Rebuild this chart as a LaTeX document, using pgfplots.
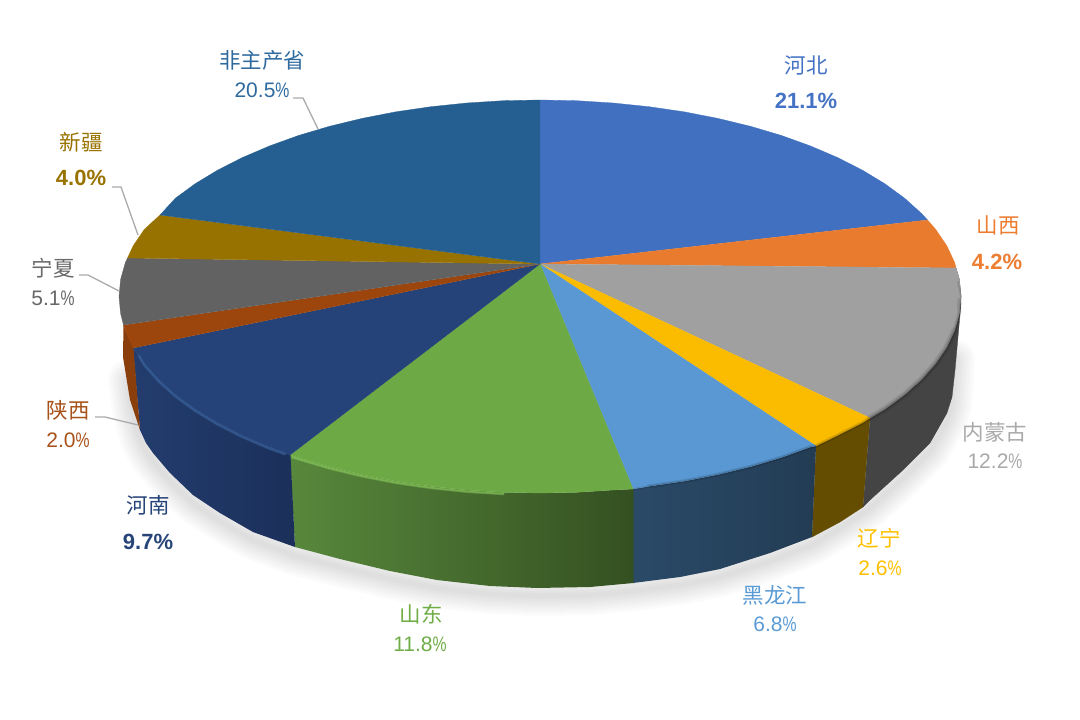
\documentclass[border=0pt]{standalone}
\usepackage{fontspec}
\usepackage{graphicx}
\usepackage{pgfplots}
\pgfplotsset{compat=1.18}
\setmainfont{Liberation Sans}
\newfontfamily\cjk{Noto Sans CJK SC}
\definecolor{cA}{HTML}{4070BF}\definecolor{tA}{HTML}{4472C4}
\definecolor{cB}{HTML}{E97B2F}\definecolor{tB}{HTML}{ED7D31}
\definecolor{cC}{HTML}{A0A0A0}\definecolor{tC}{HTML}{A9A9A9}
\definecolor{cD}{HTML}{FBBC00}\definecolor{tD}{HTML}{FFC000}
\definecolor{cE}{HTML}{5A98D3}\definecolor{tE}{HTML}{5B9BD5}
\definecolor{cF}{HTML}{6DAA45}\definecolor{tF}{HTML}{70AD47}
\definecolor{cG}{HTML}{254378}\definecolor{tG}{HTML}{264478}
\definecolor{cH}{HTML}{9C460D}\definecolor{tH}{HTML}{A8521A}
\definecolor{cI}{HTML}{626262}\definecolor{tI}{HTML}{686868}
\definecolor{cJ}{HTML}{987200}\definecolor{tJ}{HTML}{997300}
\definecolor{cK}{HTML}{255E90}\definecolor{tK}{HTML}{2F6A9E}
\definecolor{lead}{HTML}{ABABAB}
\definecolor{sideC}{HTML}{444444}
\definecolor{hiF}{HTML}{8CCB5E}
\newcommand{\nameat}[4]{\node[text=#1,inner sep=0pt] at (axis cs:#2,#3) {\fontsize{21.5}{24}\cjk #4};}
\newcommand{\valb}[4]{\node[text=#1,inner sep=0pt] at (axis cs:#2,#3) {\fontsize{22}{24}\selectfont\bfseries #4\%};}
\newcommand{\valr}[4]{\node[text=#1,inner sep=0pt] at (axis cs:#2,#3) {\fontsize{21}{24}\selectfont #4\scalebox{.75}[1]{\%}};}
\begin{document}
\begin{tikzpicture}
\useasboundingbox (0,0) rectangle (1080pt,720pt);
\begin{axis}[at={(0,0)},anchor=south west,scale only axis,width=1080pt,height=720pt,
  xmin=0,xmax=1080,ymin=0,ymax=720,y dir=reverse,hide axis,clip=false]
% soft shadow under the pie
\pgfplotsinvokeforeach{40,35,30,25,20,15,10,5}{
\addplot[draw=black,opacity=.016,line width=#1pt,line join=round,line cap=round] coordinates {
(955,360)(952,405)(947,421)(930,451)(903,478)(870,508)(840,528)(812,545)(770,561)(720,577)(680,585)(633,591)(590,595)(537,596)(490,594)(437,588)(390,579)(340,567)(293,555)(253,540)(220,521)(193,503)(170,481)(153,461)(146,451)(139,436)(132,410)(128,380)};
}
% side faces
\addplot[fill=sideC,draw=sideC,line width=.3pt] coordinates {
(956,268)(959.4,279.4)(961,296.5)(959.4,313.6)(954.6,330.6)(946.7,347.4)(935.6,363.7)(921.6,379.5)(904.6,394.8)(884.9,409.2)(870,418)
(863,507)(870,500)(903,470)(930,443)(947,413)(952,397)(955,370)(958,337)(961,303)};
\addplot[fill={rgb,255:red,100;green,77;blue,0},draw={rgb,255:red,100;green,77;blue,0},line width=.3pt] coordinates {
(870,418)(862.5,422.8)(837.7,435.4)(816,446)(812,537)(840,522)(863,507)};
\addplot[shade,left color={rgb,255:red,42;green,74;blue,104},right color={rgb,255:red,35;green,60;blue,84},draw=none] coordinates {
(816,446)(810.6,447)(781.5,457.5)(750.5,466.7)(717.9,474.6)(684,481.2)(649,486.3)(633,489)(633,583)(680,577)(720,569)(770,553)(812,537)};
\addplot[shade,left color={rgb,255:red,88;green,136;blue,60},right color={rgb,255:red,52;green,80;blue,33},draw=none] coordinates {
(633.5,489)(613.1,490)(576.7,492.3)(540,493)(503.3,492.3)(466.9,490)(431,486.3)(396,481.2)(362.1,474.6)(329.5,466.7)(298.5,457.5)(290,455)(295,547)(340,559)(390,571)(437,580)(490,586)(537,588)(590,587)(633.5,583)};
\addplot[shade,left color={rgb,255:red,35;green,61;blue,110},right color={rgb,255:red,27;green,47;blue,90},draw=none] coordinates {
(290.5,455)(269.4,447)(242.3,435.4)(217.5,422.8)(195.1,409.2)(175.4,394.8)(158.4,379.5)(144.4,363.7)(133,348)(140,430)(146,443)(153,453)(170,473)(193,495)(220,513)(253,532)(295,547)};
\addplot[fill={rgb,255:red,138;green,62;blue,12},draw=none] coordinates {
(133.5,348)(125.4,330.6)(123.5,325)(123,357)(130,400)(140,430)};
% top faces
\addplot[fill=cA,draw=cA,line width=.3pt] coordinates {
(540,264)(540,100)(576.7,100.7)(613.1,103)(649,106.7)(684,111.8)(717.9,118.4)(750.5,126.3)(781.5,135.5)(810.6,146)(837.7,157.6)(862.5,170.2)(884.9,183.8)(904.6,198.2)(921.6,213.5)(927.5,220)};
\addplot[fill=cB,draw=cB,line width=.3pt] coordinates {
(540,264)(927.5,220)(935.6,229.3)(946.7,245.6)(954.6,262.4)(956,268)};
\addplot[fill=cC,draw=cC,line width=.3pt] coordinates {
(540,264)(956,268)(959.4,279.4)(961,296.5)(959.4,313.6)(954.6,330.6)(946.7,347.4)(935.6,363.7)(921.6,379.5)(904.6,394.8)(884.9,409.2)(870,418)};
\addplot[fill=cD,draw=cD,line width=.3pt] coordinates {
(540,264)(870,418)(862.5,422.8)(837.7,435.4)(816,446)};
\addplot[fill=cE,draw=cE,line width=.3pt] coordinates {
(540,264)(816,446)(810.6,447)(781.5,457.5)(750.5,466.7)(717.9,474.6)(684,481.2)(649,486.3)(633,489)};
\addplot[fill=cF,draw=cF,line width=.3pt] coordinates {
(540,264)(633,489)(613.1,490)(576.7,492.3)(540,493)(503.3,492.3)(466.9,490)(431,486.3)(396,481.2)(362.1,474.6)(329.5,466.7)(298.5,457.5)(290,455)};
\addplot[fill=cG,draw=cG,line width=.3pt] coordinates {
(540,264)(290,455)(269.4,447)(242.3,435.4)(217.5,422.8)(195.1,409.2)(175.4,394.8)(158.4,379.5)(144.4,363.7)(133,348)};
\addplot[fill=cH,draw=cH,line width=.3pt] coordinates {
(540,264)(133,348)(125.4,330.6)(123.5,325)};
\addplot[fill=cI,draw=cI,line width=.3pt] coordinates {
(540,264)(123.5,325)(120.6,313.6)(119,296.5)(120.6,279.4)(125.4,262.4)(127.5,258)};
\addplot[fill=cJ,draw=cJ,line width=.3pt] coordinates {
(540,264)(127.5,258)(133.3,245.6)(144.4,229.3)(160,215)};
\addplot[fill=cK,draw=cK,line width=.3pt] coordinates {
(540,264)(160,215)(175.4,198.2)(195.1,183.8)(217.5,170.2)(242.3,157.6)(269.4,146)(298.5,135.5)(329.5,126.3)(362.1,118.4)(396,111.8)(431,106.7)(466.9,103)(503.3,100.7)(540,100)};
% bevel along the rim
\addplot[draw=hiF,line width=3pt,opacity=.35,line cap=round] coordinates {
(292,457)(298.5,459)(329.5,468.2)(362.1,476.1)(396,482.7)(431,487.8)(466.9,491.5)(503.3,493.8)};
\addplot[draw=hiF,line width=1.6pt,opacity=.55,line cap=round] coordinates {
(292,457)(298.5,459)(329.5,468.2)(362.1,476.1)(396,482.7)(431,487.8)(466.9,491.5)(503.3,493.8)};
\addplot[draw={rgb,255:red,58;green,100;blue,160},line width=3pt,opacity=.35,line cap=round] coordinates {
(139,356)(144.4,365.2)(158.4,381)(175.4,396.3)(195.1,410.7)(217.5,424.3)(242.3,436.9)(269.4,448.5)(285,454)};
\addplot[draw={rgb,255:red,58;green,100;blue,160},line width=1.5pt,opacity=.6,line cap=round] coordinates {
(139,356)(144.4,365.2)(158.4,381)(175.4,396.3)(195.1,410.7)(217.5,424.3)(242.3,436.9)(269.4,448.5)(285,454)};
% darker soft rim on the right-hand slices
\addplot[draw=black,line width=7pt,opacity=.07,line cap=round] coordinates {
(954.6,330.6)(946.7,347.4)(935.6,363.7)(921.6,379.5)(904.6,394.8)(884.9,409.2)(870,418)};
\addplot[draw=black,line width=4pt,opacity=.09,line cap=round] coordinates {
(959,300)(959.4,313.6)(954.6,330.6)(946.7,347.4)(935.6,363.7)(921.6,379.5)(904.6,394.8)(884.9,409.2)(870,418)(862.5,422.8)(837.7,435.4)(816,446)(810.6,447)(781.5,457.5)(750.5,466.7)(717.9,474.6)(684,481.2)(649,486.3)};
\addplot[draw=black,line width=2pt,opacity=.12,line cap=round] coordinates {
(958,282)(961,296.5)(959.4,313.6)(954.6,330.6)(946.7,347.4)(935.6,363.7)(921.6,379.5)(904.6,394.8)(884.9,409.2)(870,418)(862.5,422.8)(837.7,435.4)(816,446)(810.6,447)(781.5,457.5)(750.5,466.7)(717.9,474.6)(684,481.2)(649,486.3)(634,489)};
% leader lines
\addplot[draw=lead,line width=1.3pt] coordinates {(293,98)(303,98)(318,129)};
\addplot[draw=lead,line width=1.3pt] coordinates {(112,187)(121,187)(138,235)};
\addplot[draw=lead,line width=1.3pt] coordinates {(79,275)(88,275)(119,291)};
\addplot[draw=lead,line width=1.3pt] coordinates {(95,417)(105,417)(138,425)};
% labels
\nameat{tA}{806}{65}{河北}\valb{tA}{806}{101}{21.1}
\nameat{tB}{998}{225}{山西}\valb{tB}{997}{262}{4.2}
\nameat{tC}{995}{432}{内蒙古}\valr{tC}{995}{461}{12.2}
\nameat{tD}{879}{538}{辽宁}\valr{tD}{880}{568}{2.6}
\nameat{tE}{775}{595}{黑龙江}\valr{tE}{775}{624}{6.8}
\nameat{tF}{421}{614}{山东}\valr{tF}{420}{644}{11.8}
\nameat{tG}{148}{505}{河南}\valb{tG}{148}{542}{9.7}
\nameat{tH}{68}{410}{陕西}\valr{tH}{68}{440}{2.0}
\nameat{tI}{53}{268}{宁夏}\valr{tI}{53}{298}{5.1}
\nameat{tJ}{81}{142}{新疆}\valb{tJ}{81}{178}{4.0}
\nameat{tK}{262}{60}{非主产省}\valr{tK}{262}{90}{20.5}
\end{axis}
\end{tikzpicture}
\end{document}
